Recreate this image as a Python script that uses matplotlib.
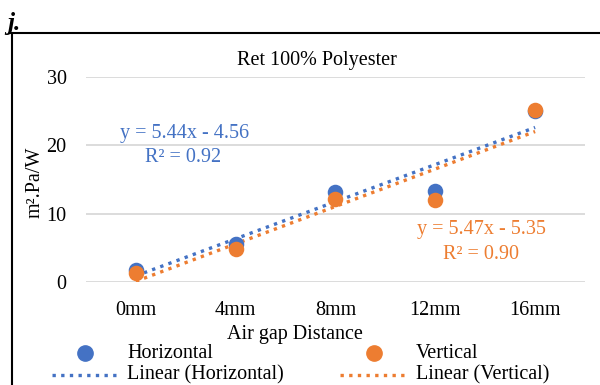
import numpy as np
import matplotlib.pyplot as plt
from matplotlib.lines import Line2D

plt.rcParams['font.family'] = ['Liberation Serif', 'DejaVu Serif']

categories = ["0mm", "4mm", "8mm", "12mm", "16mm"]
horizontal = [1.7, 5.6, 13.2, 13.3, 25.0]
vertical = [1.3, 4.8, 12.1, 12.0, 25.1]
yticks = [0, 10, 20, 30]

BLUE = "#4472C4"
ORANGE = "#ED7D31"
FS = 14.5
DOTS = (0, (1, 1.6))

fig = plt.figure(figsize=(6, 3.85), dpi=100)
ax = fig.add_axes([0.1433, 0.2675, 0.8317, 0.5325])

x = np.arange(1, len(categories) + 1)
ax.set_xlim(0.5, len(categories) + 0.5)
ax.set_ylim(0, 30)

# trendlines (linear fit over the points)
for vals, col in [(horizontal, BLUE), (vertical, ORANGE)]:
    k, b = np.polyfit(x, vals, 1)
    ax.plot(x, k * x + b, linestyle=DOTS, color=col, lw=2.4, zorder=2)

ax.scatter(x, horizontal, s=125, color=BLUE, zorder=3, clip_on=False, linewidths=0)
ax.scatter(x, vertical, s=125, color=ORANGE, zorder=4, clip_on=False, linewidths=0)

ax.set_yticks(yticks)
ax.set_xticks(x)
ax.set_xticklabels(categories)
ax.grid(axis='y', color="#D9D9D9", lw=1.3)
ax.set_axisbelow(True)
for s in ax.spines.values():
    s.set_visible(False)
ax.tick_params(length=0, labelsize=FS, colors="black")
ax.tick_params(axis='y', pad=14)
ax.tick_params(axis='x', pad=14)

fig.text(0.529, 0.842, "Ret 100% Polyester", ha='center', va='center', fontsize=FS)
fig.text(0.058, 0.527, "m².Pa/W", rotation=90, ha='center', va='center', fontsize=FS)
fig.text(0.492, 0.130, "Air gap Distance", ha='center', va='center', fontsize=FS)

fig.text(0.308, 0.6545, "y = 5.44x - 4.56", color=BLUE, ha='center', va='center', fontsize=FS)
fig.text(0.305, 0.592, "R² = 0.92", color=BLUE, ha='center', va='center', fontsize=FS)
fig.text(0.802, 0.4026, "y = 5.47x - 5.35", color=ORANGE, ha='center', va='center', fontsize=FS)
fig.text(0.802, 0.3377, "R² = 0.90", color=ORANGE, ha='center', va='center', fontsize=FS)

# legend drawn manually in figure coordinates
fig.add_artist(Line2D([0.1417], [0.083], marker='o', ms=11, color=BLUE, lw=0))
fig.text(0.2117, 0.083, "Horizontal", va='center', fontsize=FS)
fig.add_artist(Line2D([0.623], [0.083], marker='o', ms=11, color=ORANGE, lw=0))
fig.text(0.693, 0.083, "Vertical", va='center', fontsize=FS)
fig.add_artist(Line2D([0.0867, 0.195], [0.027, 0.027], color=BLUE, lw=2.4, linestyle=DOTS))
fig.text(0.2117, 0.027, "Linear (Horizontal)", va='center', fontsize=FS)
fig.add_artist(Line2D([0.567, 0.675], [0.027, 0.027], color=ORANGE, lw=2.4, linestyle=DOTS))
fig.text(0.693, 0.027, "Linear (Vertical)", va='center', fontsize=FS)

# panel frame and label
fig.add_artist(Line2D([0.017, 1.0], [0.914, 0.914], color='black', lw=1.5))
fig.add_artist(Line2D([0.02, 0.02], [0.914, 0.0], color='black', lw=1.5))
fig.text(0.012, 0.94, "j.", fontsize=18, fontweight='bold', fontstyle='italic', va='center')

fig.savefig("out.png", dpi=100)
